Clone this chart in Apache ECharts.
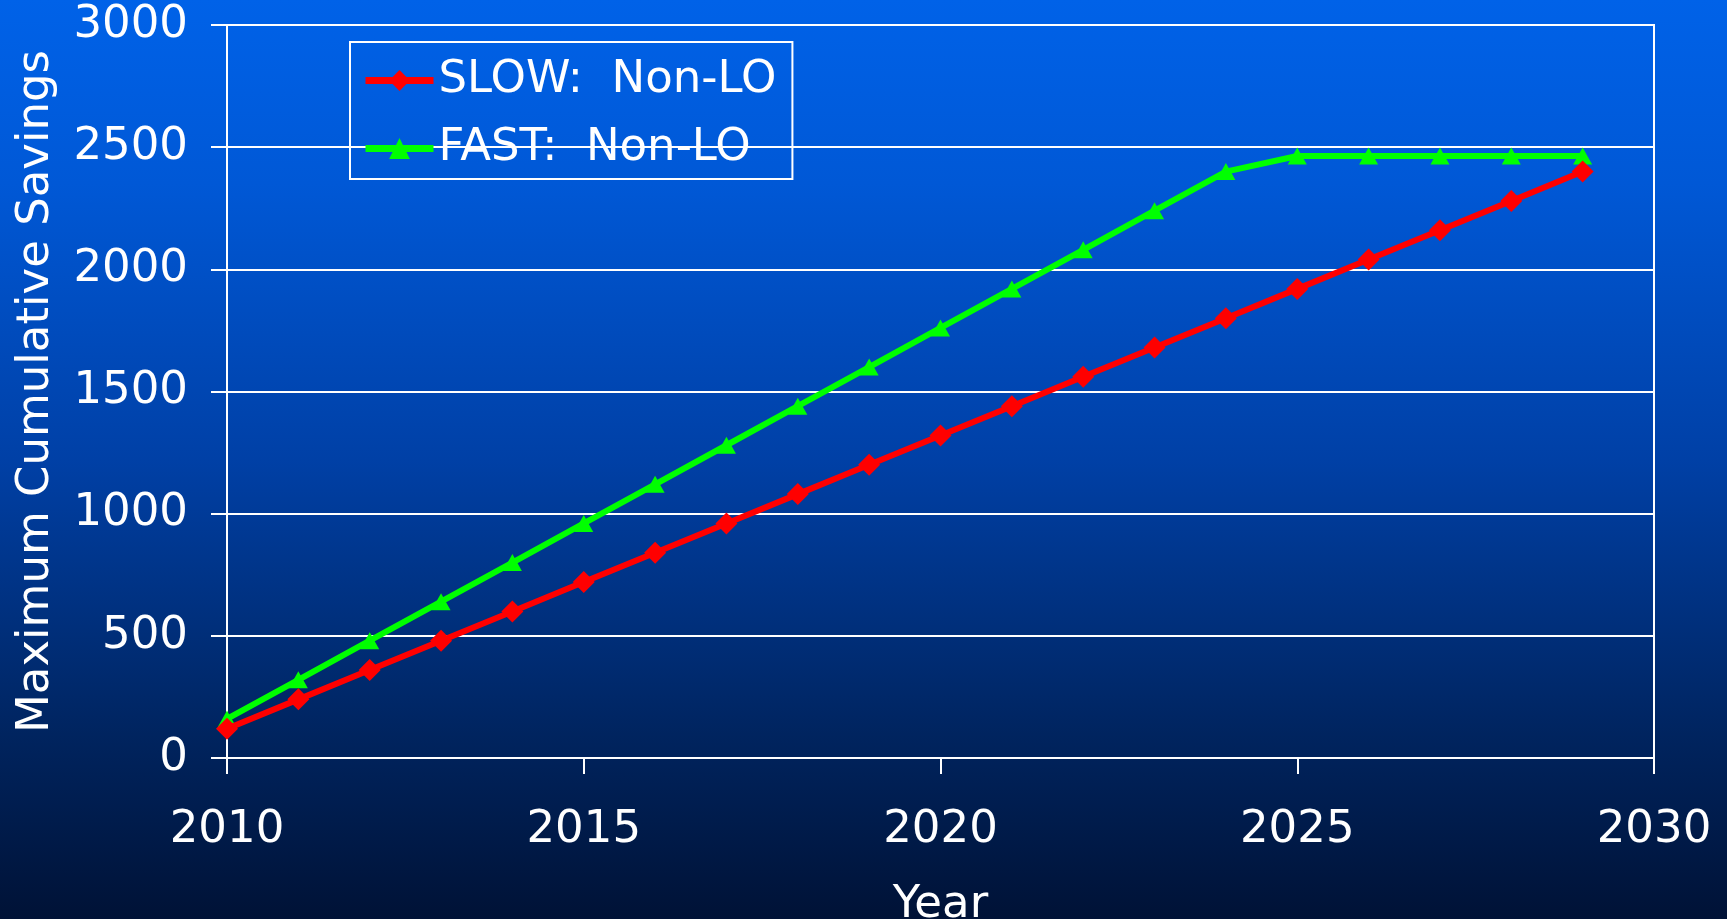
<!DOCTYPE html>
<html>
<head>
<meta charset="utf-8">
<script src="https://cdn.jsdelivr.net/npm/echarts@6/dist/echarts.min.js"></script>
<style>
html,body{margin:0;padding:0;width:1727px;height:919px;overflow:hidden;background:#001236;}
#chart{width:1727px;height:919px;}
</style>
</head>
<body>
<div id="chart"></div>
<script>
var years = [2010, 2011, 2012, 2013, 2014, 2015, 2016, 2017, 2018, 2019, 2020, 2021, 2022, 2023, 2024, 2025, 2026, 2027, 2028, 2029];
var slowNonLO = [120, 240, 360, 480, 600, 720, 840, 960, 1080, 1200, 1320, 1440, 1560, 1680, 1800, 1920, 2040, 2160, 2280, 2400];
var fastNonLO = [160, 320, 480, 640, 800, 960, 1120, 1280, 1440, 1600, 1760, 1920, 2080, 2240, 2400, 2464, 2464, 2464, 2464, 2464];
var seriesNames = ['SLOW:  Non-LO', 'FAST:  Non-LO'];
var xAxisTitle = 'Year';
var yAxisTitle = 'Maximum Cumulative Savings';

function pairs(xs, ys) { return xs.map(function (x, i) { return [x, ys[i]]; }); }

var FONT = 'DejaVu Sans';
var chart = echarts.init(document.getElementById('chart'), null, {renderer: 'canvas'});
chart.setOption({
  animation: false,
  backgroundColor: {
    type: 'linear', x: 0, y: 0, x2: 0, y2: 1,
    colorStops: [
      {offset: 0, color: '#0062E8'},
      {offset: 0.2, color: '#0058D6'},
      {offset: 0.5, color: '#0040A6'},
      {offset: 0.8, color: '#00245F'},
      {offset: 1, color: '#001236'}
    ]
  },
  textStyle: {fontFamily: FONT, color: '#fff'},
  grid: {
    left: 227, right: 73, top: 25, bottom: 161,
    outerBoundsMode: 'none', containLabel: false,
    show: true, borderColor: '#fff', borderWidth: 2, backgroundColor: 'transparent'
  },
  legend: {
    left: 350, top: 42,
    orient: 'vertical',
    padding: [16, 16, 8, 12],
    itemGap: 23,
    itemWidth: 68, itemHeight: 26,
    borderColor: '#fff', borderWidth: 2,
    lineStyle: {width: 7},
    textStyle: {color: '#fff', fontFamily: FONT, fontSize: 45, lineHeight: 40},
    data: seriesNames
  },
  xAxis: {
    type: 'value', min: 2010, max: 2030, interval: 5,
    name: xAxisTitle, nameLocation: 'middle', nameGap: 125,
    nameTextStyle: {color: '#fff', fontFamily: FONT, fontSize: 45, lineHeight: 45},
    axisLine: {show: true, lineStyle: {color: '#fff', width: 2}},
    axisTick: {show: true, inside: false, length: 16, lineStyle: {color: '#fff', width: 2}},
    axisLabel: {color: '#fff', fontFamily: FONT, fontSize: 45, lineHeight: 45, margin: 50,
      formatter: function (v) { return String(v); }},
    splitLine: {show: false}
  },
  yAxis: {
    type: 'value', min: 0, max: 3000, interval: 500,
    name: yAxisTitle, nameLocation: 'middle', nameGap: 168,
    nameTextStyle: {color: '#fff', fontFamily: FONT, fontSize: 45, lineHeight: 45},
    axisLine: {show: true, lineStyle: {color: '#fff', width: 2}},
    axisTick: {show: true, inside: false, length: 16, lineStyle: {color: '#fff', width: 2}},
    axisLabel: {color: '#fff', fontFamily: FONT, fontSize: 45, margin: 39,
      formatter: function (v) { return String(v); }},
    splitLine: {show: true, lineStyle: {color: '#fff', width: 2}}
  },
  series: [
    {
      name: seriesNames[0], type: 'line', data: pairs(years, slowNonLO),
      symbol: 'diamond', symbolSize: [22, 22],
      lineStyle: {color: '#FF0000', width: 6},
      itemStyle: {color: '#FF0000'},
      z: 3
    },
    {
      name: seriesNames[1], type: 'line', data: pairs(years, fastNonLO),
      symbol: 'triangle', symbolSize: [19, 17],
      lineStyle: {color: '#00FF00', width: 6},
      itemStyle: {color: '#00FF00'},
      z: 2
    }
  ]
});
</script>
</body>
</html>
